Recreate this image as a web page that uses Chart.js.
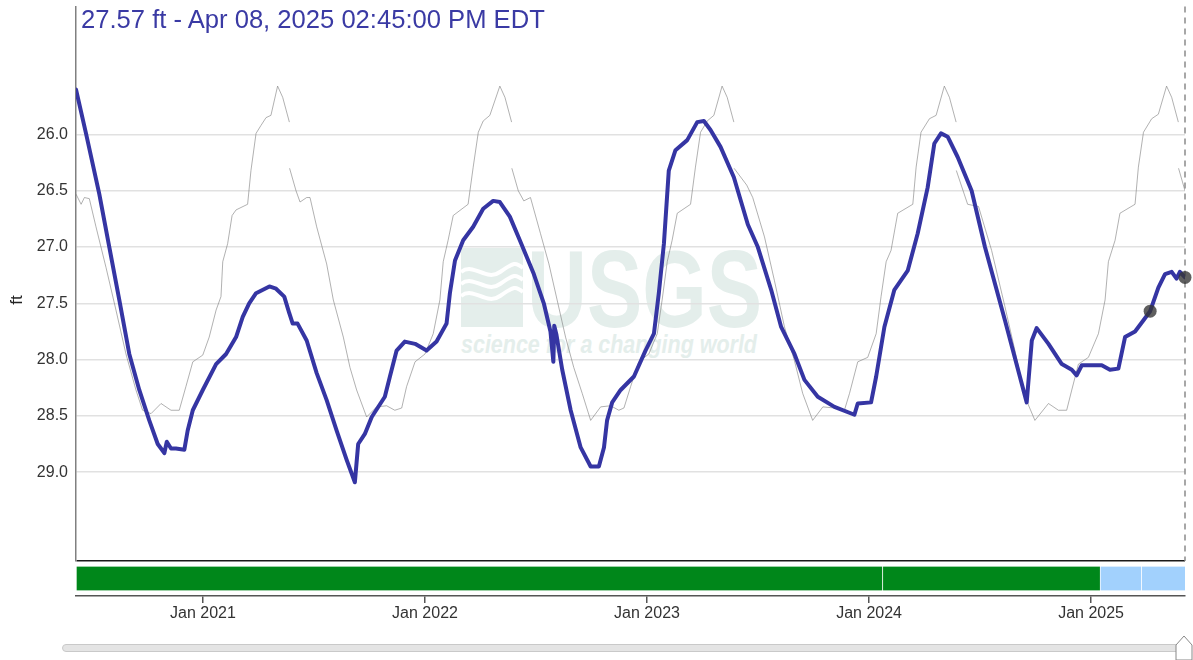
<!DOCTYPE html>
<html>
<head>
<meta charset="utf-8">
<script src="https://cdn.jsdelivr.net/npm/chart.js@4.4.1/dist/chart.umd.min.js"></script>
<style>
  html, body { margin:0; padding:0; background:#fff; }
  body { width:1193px; height:660px; overflow:hidden; position:relative; font-family:"Liberation Sans", Arial, sans-serif; }
  #wm { position:absolute; left:0; top:0; z-index:0; }
  #c { position:absolute; left:0; top:0; z-index:1; }
  #title { position:absolute; left:81px; top:7px; font-size:25.6px; line-height:25px; color:#3a3aa4; white-space:nowrap; z-index:2; }
  #ylab { position:absolute; left:8px; top:291px; width:18px; height:18px; font-size:17px; line-height:18px; color:#222; text-align:center; transform:rotate(-90deg); z-index:2; }
  #track { position:absolute; left:62px; top:644px; width:1126px; height:6px; background:#e4e4e4; border:1px solid #c9c9c9; border-radius:5px; z-index:2; }
  #handle { position:absolute; left:1175px; top:635px; z-index:3; }
</style>
</head>
<body>
<svg id="wm" width="1193" height="660">
  <rect x="461" y="248" width="62" height="79" fill="#e4eeeb"/>
  <path d="M461,272 C474,262 486,282 500,272 S516,262 523,268" stroke="#fff" stroke-width="4" fill="none"/>
  <path d="M461,284 C474,274 486,294 500,284 S516,274 523,280" stroke="#fff" stroke-width="4" fill="none"/>
  <path d="M461,296 C474,286 486,306 500,296 S516,286 523,292" stroke="#fff" stroke-width="4" fill="none"/>
  <text x="527" y="327" font-family="Liberation Sans, Arial" font-weight="bold" font-size="110" fill="#e4eeeb" textLength="235" lengthAdjust="spacingAndGlyphs">USGS</text>
  <text x="461" y="353" font-family="Liberation Sans, Arial" font-weight="bold" font-style="italic" font-size="25" fill="#e4eeeb" textLength="296" lengthAdjust="spacingAndGlyphs">science for a changing world</text>
</svg>
<canvas id="c" width="1193" height="660"></canvas>
<div id="title">27.57 ft - Apr 08, 2025 02:45:00 PM EDT</div>
<div id="ylab">ft</div>
<div id="track"></div>
<svg id="handle" width="18" height="25"><polygon points="1,10 9,1 17,10 17,25 1,25" fill="#fff" stroke="#888" stroke-width="1"/></svg>
<script>
// ---- Data (decimal years, water level in ft) ----
const blueDates = [2020.428,2020.473,2020.533,2020.578,2020.623,2020.668,2020.713,2020.758,2020.796,2020.826,2020.837,2020.856,2020.878,2020.916,2020.931,2020.954,2020.999,2021.059,2021.104,2021.149,2021.179,2021.208,2021.239,2021.299,2021.329,2021.366,2021.389,2021.404,2021.426,2021.467,2021.512,2021.557,2021.602,2021.647,2021.684,2021.699,2021.729,2021.760,2021.819,2021.842,2021.872,2021.909,2021.955,2022.007,2022.052,2022.097,2022.112,2022.135,2022.172,2022.217,2022.262,2022.307,2022.337,2022.382,2022.427,2022.490,2022.535,2022.565,2022.578,2022.582,2022.592,2022.618,2022.656,2022.701,2022.746,2022.783,2022.806,2022.820,2022.843,2022.881,2022.941,2022.993,2023.031,2023.053,2023.076,2023.098,2023.128,2023.181,2023.226,2023.256,2023.286,2023.331,2023.391,2023.454,2023.499,2023.559,2023.604,2023.664,2023.709,2023.769,2023.844,2023.934,2023.949,2024.009,2024.032,2024.069,2024.114,2024.174,2024.219,2024.264,2024.294,2024.324,2024.354,2024.399,2024.462,2024.522,2024.612,2024.710,2024.733,2024.755,2024.808,2024.868,2024.913,2024.935,2024.958,2025.048,2025.085,2025.123,2025.153,2025.198,2025.236,2025.266,2025.303,2025.333,2025.363,2025.385,2025.400,2025.423];
const blueLevels = [25.60,25.99,26.53,27.00,27.47,27.95,28.27,28.54,28.75,28.83,28.73,28.79,28.79,28.80,28.63,28.45,28.27,28.04,27.95,27.80,27.62,27.50,27.41,27.35,27.37,27.44,27.59,27.68,27.68,27.83,28.12,28.36,28.63,28.89,29.09,28.75,28.66,28.51,28.33,28.15,27.92,27.84,27.86,27.92,27.84,27.68,27.41,27.12,26.94,26.82,26.66,26.59,26.60,26.73,26.94,27.24,27.50,27.75,28.02,27.70,27.78,28.09,28.45,28.78,28.95,28.95,28.78,28.54,28.38,28.27,28.15,27.92,27.77,27.41,26.97,26.32,26.14,26.05,25.89,25.88,25.96,26.11,26.38,26.80,27.00,27.38,27.71,27.95,28.18,28.33,28.42,28.49,28.39,28.38,28.15,27.71,27.38,27.21,26.88,26.47,26.08,25.99,26.02,26.20,26.50,27.00,27.65,28.38,27.83,27.72,27.86,28.04,28.09,28.14,28.05,28.05,28.09,28.08,27.80,27.75,27.65,27.57,27.36,27.24,27.22,27.28,27.22,27.27];

const grayDates = [2020.428,2020.451,2020.466,2020.488,2020.518,2020.563,2020.608,2020.653,2020.698,2020.728,2020.766,2020.811,2020.856,2020.893,2020.923,2020.954,2020.999,2021.028,2021.059,2021.081,2021.089,2021.111,2021.131,2021.149,2021.201,2021.216,2021.239,2021.261,2021.284,2021.306,2021.336,2021.359,2021.389,2021.3895,
  2021.390,2021.419,2021.437,2021.467,2021.482,2021.512,2021.557,2021.587,2021.632,2021.662,2021.692,2021.737,2021.782,2021.827,2021.864,2021.895,2021.917,2021.955,2022.000,2022.037,2022.067,2022.082,2022.104,2022.127,2022.194,2022.217,2022.240,2022.262,2022.292,2022.337,2022.360,2022.390,2022.3905,
  2022.391,2022.420,2022.445,2022.475,2022.520,2022.558,2022.595,2022.633,2022.670,2022.708,2022.746,2022.791,2022.836,2022.873,2022.896,2022.926,2022.963,2023.008,2023.046,2023.068,2023.091,2023.113,2023.136,2023.196,2023.218,2023.241,2023.271,2023.301,2023.338,2023.361,2023.391,2023.3915,
  2023.392,2023.449,2023.476,2023.529,2023.574,2023.619,2023.664,2023.701,2023.746,2023.792,2023.844,2023.889,2023.912,2023.949,2023.994,2024.032,2024.054,2024.077,2024.099,2024.129,2024.197,2024.212,2024.234,2024.272,2024.302,2024.339,2024.362,2024.392,2024.3925,
  2024.393,2024.444,2024.493,2024.552,2024.612,2024.657,2024.702,2024.747,2024.808,2024.853,2024.890,2024.913,2024.943,2024.988,2025.033,2025.063,2025.078,2025.108,2025.130,2025.198,2025.213,2025.236,2025.273,2025.303,2025.340,2025.363,2025.393,2025.3935,
  2025.394,2025.423];
const grayLevels = [26.53,26.62,26.56,26.57,26.82,27.18,27.56,27.95,28.27,28.45,28.48,28.39,28.45,28.45,28.24,28.02,27.96,27.80,27.56,27.44,27.13,26.97,26.72,26.67,26.62,26.32,25.99,25.92,25.85,25.83,25.57,25.67,25.89,null,
  26.30,26.50,26.60,26.56,26.56,26.82,27.15,27.47,27.80,28.07,28.27,28.51,28.42,28.41,28.45,28.43,28.24,28.02,27.95,27.77,27.47,27.13,26.94,26.72,26.62,26.29,25.98,25.88,25.83,25.57,25.67,25.89,null,
  26.30,26.50,26.59,26.56,26.88,27.15,27.47,27.80,28.07,28.30,28.54,28.42,28.41,28.45,28.43,28.24,28.02,27.95,27.77,27.47,27.13,26.94,26.70,26.62,26.29,25.98,25.88,25.83,25.57,25.67,25.89,null,
  26.30,26.45,26.56,26.91,27.30,27.71,28.01,28.30,28.54,28.42,28.43,28.45,28.30,28.02,27.98,27.77,27.44,27.13,27.03,26.70,26.62,26.29,25.98,25.86,25.83,25.57,25.67,25.89,null,
  26.32,26.62,26.64,27.03,27.53,27.92,28.33,28.54,28.39,28.45,28.45,28.27,28.04,27.98,27.77,27.47,27.13,26.94,26.70,26.62,26.29,25.98,25.86,25.82,25.57,25.67,25.89,null,
  26.30,26.50];

const markerDates = [2025.266, 2025.423];
const markerLevels = [27.57, 27.27];

const approvalStart  = [2020.428, 2024.060, 2025.040, 2025.226];
const approvalEnd    = [2024.060, 2025.040, 2025.226, 2025.423];
const approvalStatus = ['Approved', 'Approved', 'Provisional', 'Provisional'];

const xRange = [2020.428, 2025.423];
const yRange = [24.863, 29.79];
const yTickValues = [26.0, 26.5, 27.0, 27.5, 28.0, 28.5, 29.0];
const xTickValues = [2021, 2022, 2023, 2024, 2025];
const xTickLabels = ['Jan 2021', 'Jan 2022', 'Jan 2023', 'Jan 2024', 'Jan 2025'];

// ---- Chart ----
const statusColors = { Approved: '#00871a', Provisional: '#a2d1fd' };
const FONT = '"Liberation Sans", Arial, sans-serif';
const noPad = s => { s.paddingTop = 0; s.paddingBottom = 0; s.paddingLeft = 0; s.paddingRight = 0; };

new Chart(document.getElementById('c'), {
  type: 'line',
  data: {
    datasets: [
      {
        type: 'scatter', order: 0,
        data: markerDates.map((d, i) => ({ x: d, y: markerLevels[i] })),
        pointRadius: 6.5, pointBackgroundColor: 'rgba(55,55,55,0.8)', pointBorderWidth: 0,
        xAxisID: 'x', yAxisID: 'y', clip: false
      },
      {
        order: 1,
        data: blueDates.map((d, i) => ({ x: d, y: blueLevels[i] })),
        borderColor: '#3535a3', borderWidth: 4, pointRadius: 0, tension: 0,
        borderJoinStyle: 'round', borderCapStyle: 'round',
        xAxisID: 'x', yAxisID: 'y'
      },
      {
        order: 2,
        data: [{ x: xRange[1], y: yRange[0] }, { x: xRange[1], y: yRange[1] }],
        borderColor: '#8a8a8a', borderWidth: 1.5, borderDash: [6, 5], pointRadius: 0,
        xAxisID: 'x', yAxisID: 'y', clip: false
      },
      {
        order: 3,
        data: grayDates.map((d, i) => ({ x: d, y: grayLevels[i] })),
        borderColor: 'rgba(125,125,125,0.6)', borderWidth: 1, pointRadius: 0, tension: 0,
        spanGaps: false,
        xAxisID: 'x', yAxisID: 'y'
      },
      {
        type: 'bar', order: 4, indexAxis: 'y',
        data: approvalStart.map((s, i) => ({ x: [s, approvalEnd[i]], y: 0.5 })),
        backgroundColor: approvalStatus.map(s => statusColors[s]),
        borderColor: 'rgba(255,255,255,0.35)',
        borderWidth: { left: 1, right: 0, top: 0, bottom: 0 },
        borderSkipped: false,
        barThickness: 24,
        xAxisID: 'x', yAxisID: 'yBar'
      }
    ]
  },
  options: {
    responsive: false,
    animation: false,
    devicePixelRatio: 1,
    layout: { padding: { left: 0, right: 8, top: 5, bottom: 30 } },
    plugins: { legend: { display: false }, tooltip: { enabled: false }, title: { display: false } },
    scales: {
      x: {
        type: 'linear', position: 'bottom',
        min: xRange[0], max: xRange[1], offset: false,
        afterBuildTicks: s => { s.ticks = xTickValues.map(v => ({ value: v })); },
        afterFit: s => { s.height = 34; noPad(s); },
        ticks: {
          autoSkip: false, maxRotation: 0, padding: 1,
          color: '#333', font: { family: FONT, size: 16 },
          callback: v => xTickLabels[xTickValues.indexOf(v)]
        },
        grid: { drawOnChartArea: false, drawTicks: true, tickLength: 7, color: '#555', lineWidth: 1.5 },
        border: { display: true, color: '#555', width: 1.5 }
      },
      yBar: {
        type: 'linear', position: 'left',
        min: 0, max: 1, offset: false,
        stack: 'v', stackWeight: 35,
        afterFit: s => { s.width = 76; noPad(s); },
        ticks: { display: false },
        grid: { display: false },
        border: { display: false }
      },
      y: {
        type: 'linear', position: 'left', reverse: true,
        min: yRange[0], max: yRange[1],
        stack: 'v', stackWeight: 556,
        afterBuildTicks: s => { s.ticks = yTickValues.concat([yRange[1]]).map(v => ({ value: v })); },
        afterFit: s => { s.width = 76; noPad(s); },
        ticks: {
          padding: 8, color: '#333', font: { family: FONT, size: 16 },
          callback: v => (yTickValues.includes(v) ? Number(v).toFixed(1) : '')
        },
        grid: {
          drawTicks: false,
          color: c => (c.tick && c.tick.value === yRange[1] ? '#1a1a1a' : '#e1e1e1'),
          lineWidth: 1.5
        },
        border: { display: true, color: '#808080', width: 1.5 }
      }
    }
  }
});
</script>
</body>
</html>
